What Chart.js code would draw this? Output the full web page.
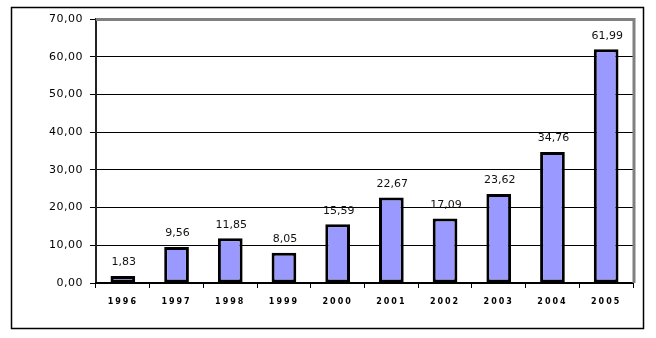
<!DOCTYPE html>
<html>
<head>
<meta charset="utf-8">
<script src="https://cdn.jsdelivr.net/npm/chart.js@4/dist/chart.umd.min.js"></script>
<style>
html,body{margin:0;padding:0;background:#fff;}
#wrap{width:656px;height:338px;position:relative;}
</style>
</head>
<body>
<div id="wrap"><canvas id="c" width="656" height="338"></canvas></div>
<script>
const years = ["1996","1997","1998","1999","2000","2001","2002","2003","2004","2005"];
const values = [1.83, 9.56, 11.85, 8.05, 15.59, 22.67, 17.09, 23.62, 34.76, 61.99];
const yMin = 0, yMax = 70, yStep = 10;

const fmt = v => v.toFixed(2).replace('.', ',');

const framePlugin = {
  id: 'frame',
  beforeDraw(chart) {
    const ctx = chart.ctx;
    ctx.save();
    ctx.fillStyle = '#fff';
    ctx.fillRect(0, 0, chart.width, chart.height);
    ctx.strokeStyle = '#000';
    ctx.lineWidth = 1.5;
    ctx.strokeRect(11.5, 7.5, 632, 321);
    ctx.restore();
  },
  afterLayout(chart) {
    const sx = chart.scales.x;
    if (!sx._lsWrapped) {
      const orig = sx.drawLabels;
      sx.drawLabels = function (area) {
        const c = this.ctx;
        c.save();
        c.letterSpacing = '2px';
        orig.call(this, area);
        c.restore();
      };
      sx._lsWrapped = true;
    }
    const sy = chart.scales.y;
    if (!sy._lsWrapped) {
      const origY = sy.drawLabels;
      sy.drawLabels = function (area) {
        const c = this.ctx;
        c.save();
        c.letterSpacing = '0.5px';
        origY.call(this, area);
        c.restore();
      };
      sy._lsWrapped = true;
    }
  },
  beforeDatasetsDraw(chart) {
    const ctx = chart.ctx, a = chart.chartArea;
    ctx.save();
    ctx.strokeStyle = '#808080';
    ctx.lineWidth = 3;
    ctx.beginPath();
    ctx.moveTo(a.left, a.top + 0.5);
    ctx.lineTo(a.right + 1, a.top + 0.5);
    ctx.lineTo(a.right + 1, a.bottom);
    ctx.stroke();
    ctx.restore();
  },
  afterDatasetsDraw(chart) {
    const ctx = chart.ctx;
    const meta = chart.getDatasetMeta(0);
    ctx.save();
    ctx.font = '11px "DejaVu Sans"';
    ctx.fillStyle = '#111';
    ctx.textAlign = 'center';
    ctx.textBaseline = 'bottom';
    meta.data.forEach((bar, i) => {
      ctx.fillText(fmt(chart.data.datasets[0].data[i]), bar.x + 1, bar.y - 8);
    });
    ctx.restore();
  }
};

new Chart(document.getElementById('c'), {
  type: 'bar',
  data: {
    labels: years,
    datasets: [{
      data: values,
      backgroundColor: '#9999FF',
      borderColor: '#000',
      borderWidth: 3,
      borderSkipped: false,
      categoryPercentage: 1,
      barPercentage: 0.46
    }]
  },
  options: {
    responsive: false,
    animation: false,
    devicePixelRatio: 1,
    layout: { padding: { left: 0, top: 19, right: 23, bottom: 0 } },
    plugins: { legend: { display: false }, tooltip: { enabled: false } },
    scales: {
      y: {
        min: yMin, max: yMax,
        afterFit(s) { s.width = 96; },
        ticks: {
          stepSize: yStep,
          color: '#000',
          font: { family: '"DejaVu Sans"', size: 11 },
          padding: 7,
          callback: v => fmt(v)
        },
        grid: { color: '#000', lineWidth: 1, tickLength: 6, drawTicks: true },
        border: { color: '#222', width: 2 }
      },
      x: {
        afterFit(s) { s.height = 55; },
        ticks: {
          color: '#000',
          font: { family: '"DejaVu Sans"', size: 8, weight: 'bold' },
          padding: 9,
          maxRotation: 0
        },
        grid: { drawOnChartArea: false, color: '#000', tickLength: 5, offset: true },
        border: { color: '#000', width: 2 }
      }
    }
  },
  plugins: [framePlugin]
});
</script>
</body>
</html>
